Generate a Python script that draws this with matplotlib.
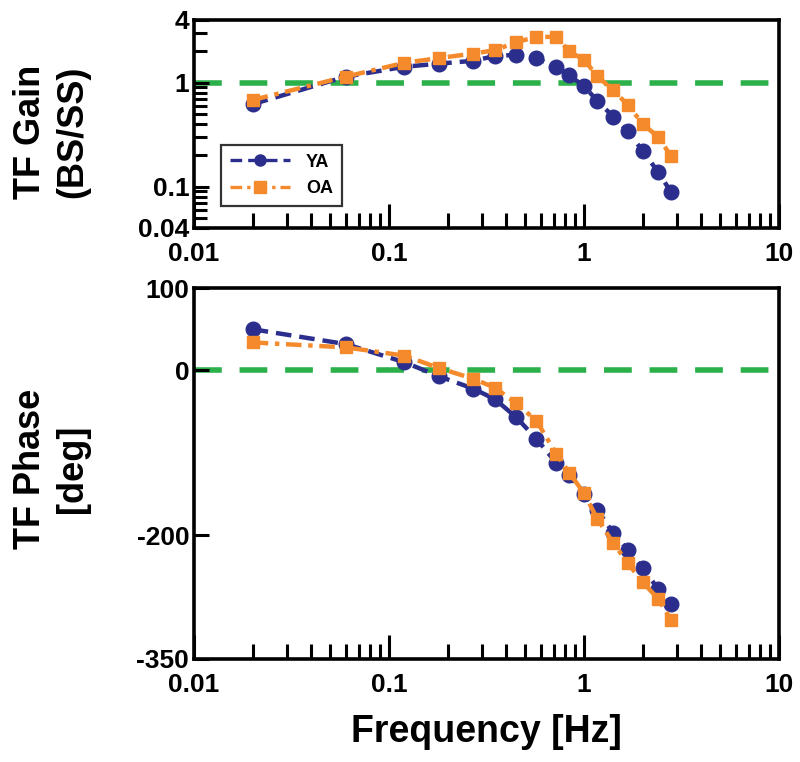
import matplotlib
matplotlib.use("Agg")
import matplotlib.pyplot as plt
from matplotlib.ticker import LogLocator, NullFormatter, FixedLocator, FixedFormatter

plt.rcParams['font.family'] = ['Liberation Sans', 'DejaVu Sans']
plt.rcParams['font.weight'] = 'bold'

freq = [0.02, 0.06, 0.12, 0.18, 0.27, 0.35, 0.45, 0.57, 0.72, 0.84, 1.0,
        1.17, 1.41, 1.68, 2.0, 2.4, 2.8]

gain_ya = [0.62, 1.14, 1.42, 1.52, 1.62, 1.80, 1.85, 1.72, 1.40, 1.18, 0.92,
           0.67, 0.47, 0.34, 0.22, 0.138, 0.088]
gain_oa = [0.68, 1.14, 1.55, 1.72, 1.90, 2.05, 2.45, 2.75, 2.75, 2.0, 1.65,
           1.16, 0.84, 0.61, 0.40, 0.30, 0.195]

phase_ya = [50, 32, 10, -7, -22, -35, -57, -83, -112, -127, -150,
            -169, -197, -218, -240, -265, -283]
phase_oa = [34, 28, 18, 3, -10, -21, -40, -61, -101, -124, -149,
            -180, -209, -234, -257, -277, -303]

series = ['YA', 'OA']

C_YA = '#2B2E8C'
C_OA = '#F58A2C'
C_GREEN = '#2BB04A'

fig = plt.figure(figsize=(8.0, 7.62), dpi=100)
ax1 = fig.add_axes([0.2425, 0.7008, 0.7313, 0.2730])
ax2 = fig.add_axes([0.2425, 0.1352, 0.7313, 0.4868])

for ax in (ax1, ax2):
    ax.set_xscale('log')
    ax.set_xlim(0.01, 10)
    for s in ax.spines.values():
        s.set_linewidth(2.6)
    ax.xaxis.set_major_locator(FixedLocator([0.01, 0.1, 1, 10]))
    ax.xaxis.set_major_formatter(FixedFormatter(['0.01', '0.1', '1', '10']))
    ax.xaxis.set_minor_locator(LogLocator(base=10, subs=range(2, 10), numticks=20))
    ax.xaxis.set_minor_formatter(NullFormatter())
    ax.tick_params(axis='x', which='major', direction='in', length=17, width=2.2,
                   labelsize=19, pad=10, top=False)
    ax.tick_params(axis='x', which='minor', direction='in', length=11, width=2.2, top=False)
    ax.tick_params(axis='y', which='both', direction='in', right=False, labelsize=19, width=2.2)
    for lab in ax.get_xticklabels() + ax.get_yticklabels():
        lab.set_fontweight('bold')

# top panel
ax1.axhline(1, color=C_GREEN, lw=4, ls=(0, (5, 3.2)), zorder=1)
ax1.plot(freq, gain_ya, color=C_YA, ls=(0, (3.5, 1.8)), lw=3.2, marker='o',
         ms=10.5, mec=C_YA, mfc=C_YA, label=series[0], zorder=3)
ax1.plot(freq, gain_oa, color=C_OA, ls=(0, (3.5, 1.5, 1, 1.5)), lw=3.2, marker='s',
         ms=9, mec=C_OA, mfc=C_OA, label=series[1], zorder=4)
ax1.set_yscale('log')
ax1.set_ylim(0.04, 4)
ax1.yaxis.set_major_locator(FixedLocator([0.04, 0.1, 1, 4]))
ax1.yaxis.set_major_formatter(FixedFormatter(['0.04', '0.1', '1', '4']))
ax1.yaxis.set_minor_locator(LogLocator(base=10, subs=range(2, 10), numticks=20))
ax1.yaxis.set_minor_formatter(NullFormatter())
ax1.tick_params(axis='y', which='major', length=11)
ax1.tick_params(axis='y', which='minor', length=9)
for lab in ax1.get_yticklabels():
    lab.set_fontweight('bold')
ax1.set_ylabel('TF Gain\n(BS/SS)', fontsize=26, fontweight='bold', linespacing=1.25)
ax1.yaxis.set_label_coords(-0.178, 0.46)

leg = ax1.legend(loc='upper left', bbox_to_anchor=(0.046, 0.40), fontsize=13,
                 frameon=True, fancybox=False, edgecolor='black', handlelength=3.3,
                 borderpad=0.5, labelspacing=0.5, handletextpad=0.9, borderaxespad=0)
leg.get_frame().set_linewidth(1.6)
for t in leg.get_texts():
    t.set_fontweight('bold')
for h in leg.legend_handles:
    h.set_markersize(8)
    h.set_linewidth(2.4)

# bottom panel
ax2.axhline(0, color=C_GREEN, lw=4, ls=(0, (5, 3.2)), zorder=1)
ax2.plot(freq, phase_ya, color=C_YA, ls=(0, (3.5, 1.8)), lw=3.2, marker='o',
         ms=10.5, mec=C_YA, mfc=C_YA, zorder=3)
ax2.plot(freq, phase_oa, color=C_OA, ls=(0, (3.5, 1.5, 1, 1.5)), lw=3.2, marker='s',
         ms=9, mec=C_OA, mfc=C_OA, zorder=4)
ax2.set_ylim(-350, 100)
ax2.set_yticks([100, 0, -200, -350])
ax2.set_yticklabels(['100', '0', '-200', '-350'], fontweight='bold')
ax2.tick_params(axis='y', which='major', length=11)
ax2.set_ylabel('TF Phase\n[deg]', fontsize=26, fontweight='bold', linespacing=1.25)
ax2.yaxis.set_label_coords(-0.178, 0.512)
ax2.set_xlabel('Frequency [Hz]', fontsize=27, fontweight='bold', labelpad=12)

fig.savefig('out.png', dpi=100)
